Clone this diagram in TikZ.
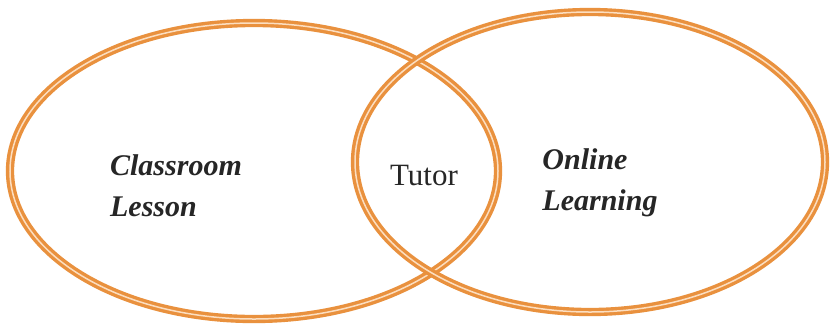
\documentclass[tikz,border=0pt]{standalone}
\usepackage{fontspec}
\setmainfont{Liberation Serif}
\definecolor{ringorange}{RGB}{233,145,62}
\definecolor{ringinner}{RGB}{252,222,192}
\begin{document}
\begin{tikzpicture}[x=1pt,y=-1pt,
  ring/.style={draw=ringorange,double=ringinner,line width=3.4pt,double distance=1.5pt},
  label/.style={font=\fontsize{30}{41}\selectfont\itshape\bfseries,align=left,text=black!85},
  middle/.style={font=\fontsize{31}{36}\selectfont,text=black!85}]
  \useasboundingbox (0,0) rectangle (830,330);
  \fill[white] (0,0) rectangle (830,330);
  \draw[ring] (254,171) ellipse [x radius=244, y radius=148];
  \draw[ring] (590,162) ellipse [x radius=235, y radius=150];
  \node[label] (classroom) at (176,186) {Classroom\\Lesson};
  \node[middle] (tutor) at (424,175) {Tutor};
  \node[label] (online) at (600,183) {Online\\Learning};
\end{tikzpicture}
\end{document}
